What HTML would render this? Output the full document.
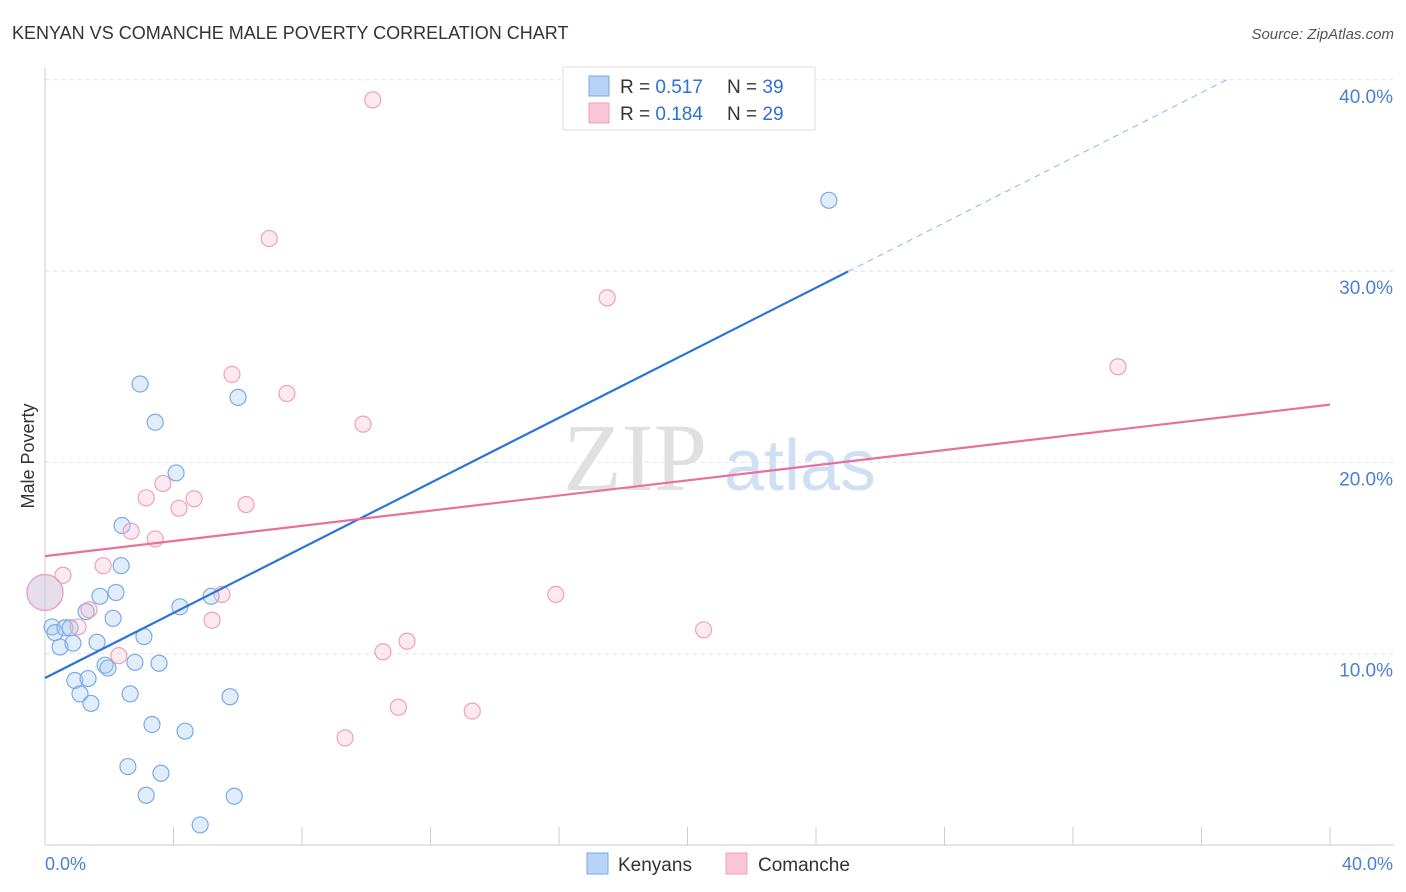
<!DOCTYPE html>
<html><head><meta charset="utf-8"><style>
body{margin:0;background:#fff;font-family:"Liberation Sans",sans-serif;}
</style></head><body>
<svg width="1406" height="892" viewBox="0 0 1406 892" style="display:block">
<text x="12" y="39" font-size="18" fill="#333">KENYAN VS COMANCHE MALE POVERTY CORRELATION CHART</text>
<text x="1394" y="39" font-size="15" fill="#555" font-style="italic" text-anchor="end">Source: ZipAtlas.com</text>
<g id="grid"></g>
<g>
<text x="635" y="490" font-size="96" font-family="Liberation Serif" fill="#e0e0e0" text-anchor="middle">ZIP</text>
<text x="800" y="490" font-size="72" fill="#d0e0f4" text-anchor="middle">atlas</text>
</g>
<line x1="45" y1="68" x2="45" y2="845" stroke="#ccc"/>
<line x1="45" y1="845" x2="1394" y2="845" stroke="#ccc"/>
<g id="xticks"></g>
<g id="ylabels"></g>
<text x="45" y="870" font-size="18" fill="#4a7fd6">0.0%</text>
<text x="1393" y="870" font-size="18" fill="#4a7fd6" text-anchor="end">40.0%</text>
<text transform="translate(34,456) rotate(-90)" font-size="18" fill="#333" text-anchor="middle">Male Poverty</text>
<g id="pts"></g>
<g id="lines"></g>
<g>
<rect x="563" y="67" width="252" height="63" fill="#fff" stroke="#ddd"/>
<rect x="589" y="76" width="20" height="20" fill="#b8d3f5" stroke="#7aaae8"/>
<text x="620" y="93" font-size="19" fill="#333">R = <tspan fill="#2f6fd6">0.517</tspan></text>
<text x="727" y="93" font-size="19" fill="#333">N = <tspan fill="#2f6fd6">39</tspan></text>
<rect x="589" y="103" width="20" height="20" fill="#f9c6d5" stroke="#f0a0b8"/>
<text x="620" y="120" font-size="19" fill="#333">R = <tspan fill="#2f6fd6">0.184</tspan></text>
<text x="727" y="120" font-size="19" fill="#333">N = <tspan fill="#2f6fd6">29</tspan></text>
</g>
<g>
<rect x="587" y="853" width="21" height="21" fill="#b8d3f5" stroke="#7aaae8"/>
<text x="618" y="871" font-size="19" fill="#333">Kenyans</text>
<rect x="726" y="853" width="21" height="21" fill="#f9c6d5" stroke="#f0a0b8"/>
<text x="758" y="871" font-size="19" fill="#333">Comanche</text>
</g>
</svg>
<script>
const yTicks=[10,20,30,40];
const yTickLabels=["10.0%","20.0%","30.0%","40.0%"];
const kenX=[0,0.22,0.31,0.47,0.62,0.78,0.87,0.93,1.09,1.28,1.34,1.43,1.62,1.71,1.87,1.96,2.12,2.21,2.37,2.4,2.58,2.65,2.8,2.96,3.08,3.15,3.33,3.43,3.55,3.61,4.08,4.2,4.36,4.83,5.17,5.76,5.89,6.01,24.4];
const kenY=[13.2,11.4,11.1,10.35,11.35,11.35,10.55,8.6,7.9,12.2,8.7,7.4,10.6,13.0,9.4,9.25,11.85,13.2,14.6,16.7,4.1,7.9,9.55,24.1,10.9,2.6,6.3,22.1,9.5,3.75,19.45,12.45,5.95,1.05,13.0,7.75,2.55,23.4,33.7];
const comX=[10.2,6.98,17.5,33.4,5.82,7.53,9.9,3.67,3.15,4.64,4.17,6.26,2.68,3.43,1.81,0.56,5.51,15.9,1.37,5.2,1.03,20.5,11.27,10.52,2.3,11.0,13.3,9.34,0];
const comY=[38.95,31.7,28.6,25.0,24.6,23.6,22.0,18.9,18.15,18.1,17.6,17.8,16.4,16.0,14.6,14.1,13.1,13.1,12.3,11.75,11.4,11.25,10.65,10.1,9.9,7.2,7.0,5.6,13.2];
const kenTrend=[8.73,0.85];
const comTrend=[15.1,0.198];
const NS="http://www.w3.org/2000/svg";
const sx=v=>45+v*32.125, sy=v=>845-v*19.13;
function mk(t,a,p){const e=document.createElementNS(NS,t);for(const k in a)e.setAttribute(k,a[k]);p.appendChild(e);return e;}
const grid=document.getElementById('grid'),yl=document.getElementById('ylabels');
yTicks.forEach((t,i)=>{
 const l=mk('line',{x1:45,x2:1394,y1:sy(t),y2:sy(t),stroke:'#e2e2e2','stroke-dasharray':'4,4'},grid);
 
 
 const tx=mk('text',{x:1393,y:sy(t)+23,'font-size':19,fill:'#4a7fd6','text-anchor':'end'},yl);
 tx.textContent=yTickLabels[i];
 
 
});
const xt=document.getElementById('xticks');
for(let i=0;i<=10;i++){const l=mk('line',{x1:sx(i*4),x2:sx(i*4),y1:827,y2:845,stroke:'#ccc'},xt);
 
 }
const pts=document.getElementById('pts');
kenX.forEach((x,i)=>{const c=mk('circle',{cx:sx(x),cy:sy(kenY[i]),r:x===0?18:8,fill:'rgba(170,202,242,0.35)',stroke:'#7aaae8','stroke-width':1.2},pts);
 
 });
comX.forEach((x,i)=>{const c=mk('circle',{cx:sx(x),cy:sy(comY[i]),r:x===0?18:8,fill:'rgba(247,190,208,0.32)',stroke:'#f0a0b8','stroke-width':1.2},pts);
 
 });
const ln=document.getElementById('lines');
const kEnd=25, kf=x=>kenTrend[0]+kenTrend[1]*x, xTop=(40-kenTrend[0])/kenTrend[1];
let a=mk('line',{x1:sx(0),y1:sy(kf(0)),x2:sx(kEnd),y2:sy(kf(kEnd)),stroke:'#2a74d8','stroke-width':2.2},ln);


a=mk('line',{x1:sx(kEnd),y1:sy(kf(kEnd)),x2:sx(xTop),y2:sy(40),stroke:'#8fb4e8','stroke-width':1,'stroke-dasharray':'6,5'},ln);


a=mk('line',{x1:sx(0),y1:sy(comTrend[0]),x2:sx(40),y2:sy(comTrend[0]+comTrend[1]*40),stroke:'#e8709a','stroke-width':2.2},ln);


</script>
</body></html>
